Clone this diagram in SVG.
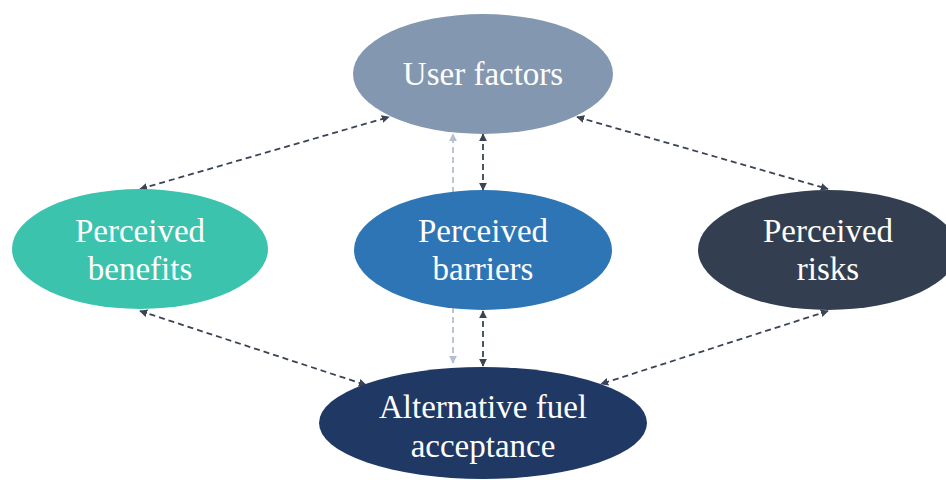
<svg xmlns="http://www.w3.org/2000/svg" width="946" height="480" viewBox="0 0 946 480">
  <style>
    .label { font-family: "Liberation Serif", "Times New Roman", serif; font-size: 33px; fill: #ffffff; text-anchor: middle; }
    .link { fill: none; stroke: #3a4454; stroke-width: 1.8; stroke-dasharray: 6 4; marker-start: url(#head); marker-end: url(#head); }
    .link-light { fill: none; stroke: #b4bfcf; stroke-width: 1.8; stroke-dasharray: 6 4; marker-start: url(#head-light); marker-end: url(#head-light); }
  </style>
  <defs>
    <marker id="head" viewBox="0 0 10 10" refX="9" refY="5" markerWidth="8" markerHeight="8" orient="auto-start-reverse" markerUnits="userSpaceOnUse">
      <path d="M0,0 L10,5 L0,10 Z" fill="#3a4454"/>
    </marker>
    <marker id="head-light" viewBox="0 0 10 10" refX="9" refY="5" markerWidth="8" markerHeight="8" orient="auto-start-reverse" markerUnits="userSpaceOnUse">
      <path d="M0,0 L10,5 L0,10 Z" fill="#b4bfcf"/>
    </marker>
  </defs>
  <rect width="946" height="480" fill="#ffffff"/>

  <g id="connectors">
    <path class="link-light" d="M453,363 L453,134"/>
    <path class="link" d="M140,189 L389,117"/>
    <path class="link" d="M577,117 L828,189"/>
    <path class="link" d="M483,134 L483,190"/>
    <path class="link" d="M483,311 L483,366"/>
    <path class="link" d="M140,311 L366,385"/>
    <path class="link" d="M828,311 L601,384"/>
  </g>

  <g id="user-factors">
    <ellipse cx="483" cy="74" rx="130" ry="60" fill="#8497b0"/>
    <text class="label" x="483" y="85">User factors</text>
  </g>

  <g id="perceived-benefits">
    <ellipse cx="140" cy="249" rx="128" ry="60" fill="#3bc3ad"/>
    <text class="label" x="140" y="242">Perceived</text>
    <text class="label" x="140" y="280">benefits</text>
  </g>

  <g id="perceived-barriers">
    <ellipse cx="483" cy="250" rx="129" ry="60" fill="#2e75b6"/>
    <text class="label" x="483" y="242">Perceived</text>
    <text class="label" x="483" y="280">barriers</text>
  </g>

  <g id="perceived-risks">
    <ellipse cx="828" cy="250" rx="130" ry="60" fill="#333f50"/>
    <text class="label" x="828" y="242">Perceived</text>
    <text class="label" x="828" y="280">risks</text>
  </g>

  <g id="alternative-fuel-acceptance">
    <ellipse cx="483" cy="423" rx="164" ry="56" fill="#203864"/>
    <text class="label" x="483" y="418">Alternative fuel</text>
    <text class="label" x="483" y="457">acceptance</text>
  </g>
</svg>
